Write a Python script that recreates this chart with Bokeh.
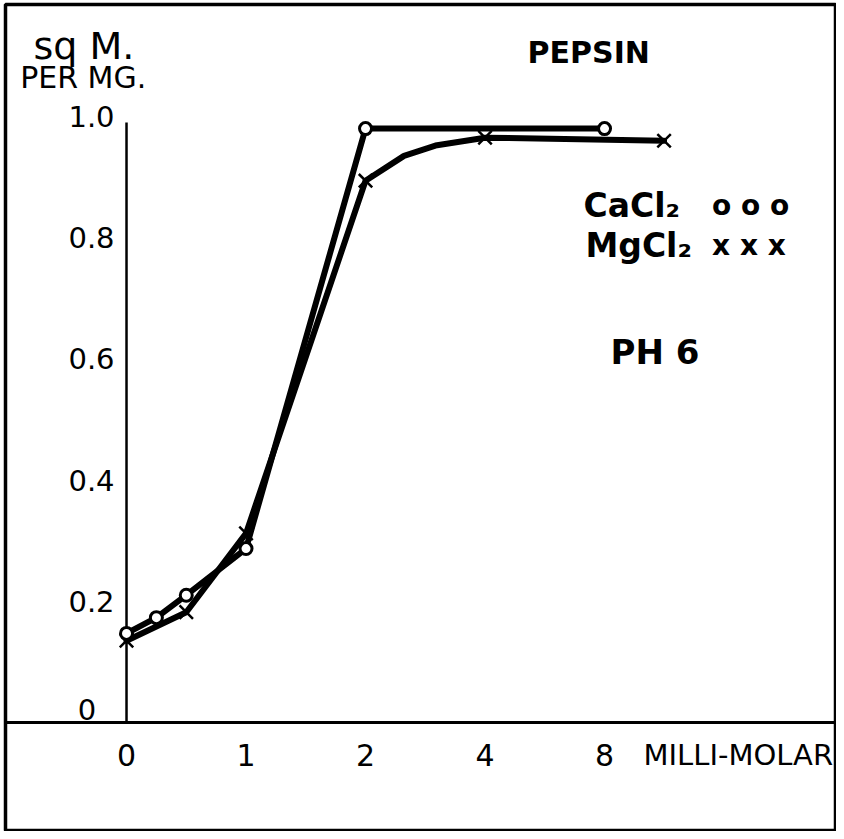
import numpy as np
from bokeh.plotting import figure
from bokeh.models import ColumnDataSource, Range1d, Span
from bokeh.core.properties import value
from bokeh.embed import file_html
from bokeh.resources import INLINE

# --- data (milli-molar concentration, sq M. per mg) ---
cacl2_conc = [0, 0.25, 0.5, 1, 2, 8]
cacl2_val = [0.147, 0.173, 0.21, 0.287, 0.98, 0.98]

mgcl2_conc = [0, 0.5, 1, 2, 4, 11.3]
mgcl2_val = [0.135, 0.182, 0.312, 0.894, 0.965, 0.96]

# drawn MgCl2 curve: marked points plus the bend
mgcl2_curve_conc = [0, 0.5, 1, 2, 2.5, 3, 4, 11.3]
mgcl2_curve_val = [0.135, 0.182, 0.312, 0.894, 0.935, 0.952, 0.965, 0.96]

x_tick_conc = [0, 1, 2, 4, 8]
x_tick_labels = ["0", "1", "2", "4", "8"]
y_ticks = [0, 0.2, 0.4, 0.6, 0.8, 1.0]
y_tick_labels = ["0", "0.2", "0.4", "0.6", "0.8", "1.0"]


def axis_pos(conc):
    """Axis scale of the original: linear from 0 to 1 mM, doubling steps beyond."""
    c = np.asarray(conc, dtype=float)
    return np.where(c <= 1, c, 1 + np.log2(np.maximum(c, 1)))


FONT = value("DejaVu Sans")

p = figure(width=836, height=831, output_backend="svg", toolbar_location=None,
           x_axis_type=None, y_axis_type=None,
           x_range=Range1d(-1.0126, 5.941), y_range=Range1d(-0.1799, 1.1848),
           min_border=0, min_border_left=5, min_border_right=0,
           min_border_top=4, min_border_bottom=0)
p.grid.visible = False
p.background_fill_color = "white"
p.border_fill_color = "white"
p.outline_line_color = "black"
p.outline_line_width = 3.5

# axes drawn as in the original figure
p.add_layout(Span(location=0, dimension="width", line_color="black", line_width=3))
p.segment(x0=[0], y0=[0], x1=[0], y1=[0.99], line_color="black", line_width=2.5)

# curves
ca_src = ColumnDataSource(dict(x=axis_pos(cacl2_conc), y=cacl2_val))
mg_src = ColumnDataSource(dict(x=axis_pos(mgcl2_conc), y=mgcl2_val))
mg_curve = ColumnDataSource(dict(x=axis_pos(mgcl2_curve_conc), y=mgcl2_curve_val))

p.line("x", "y", source=mg_curve, line_color="black", line_width=6,
       line_join="round", line_cap="round")
p.line("x", "y", source=ca_src, line_color="black", line_width=6,
       line_join="round", line_cap="round")
p.scatter("x", "y", source=mg_src, marker="x", size=19, line_color="black",
          line_width=2.5)
p.scatter("x", "y", source=ca_src, marker="circle", size=12, line_color="black",
          fill_color="white", line_width=3)

# tick labels
xt = ColumnDataSource(dict(x=axis_pos(x_tick_conc), y=[-0.053] * len(x_tick_conc),
                           t=x_tick_labels))
p.text("x", "y", text="t", source=xt, text_font=FONT, text_font_size="30px",
       text_align="center", text_baseline="middle", text_color="black")

yt = ColumnDataSource(dict(x=[-0.10] * (len(y_ticks) - 1), y=y_ticks[1:],
                           t=y_tick_labels[1:]))
p.text("x", "y", text="t", source=yt, text_font=FONT, text_font_size="29px",
       text_align="right", text_baseline="middle", text_color="black")
p.text(x=[-0.33], y=[y_ticks[0]], text=[y_tick_labels[0]], text_font=FONT,
       text_font_size="29px", text_align="center", text_baseline="bottom",
       y_offset=-2, text_color="black")

# annotations
def label(x, y, s, size, align="left", baseline="middle", style="normal"):
    p.text(x=[x], y=[y], text=[s], text_font=FONT, text_font_size=size,
           text_align=align, text_baseline=baseline, text_color="black",
           text_font_style=style)

label(-0.778, 1.117, "sq M.", "38px", baseline="alphabetic")
label(-0.89, 1.064, "PER MG.", "30px", baseline="alphabetic")
label(4.326, -0.053, "MILLI-MOLAR", "29px")
label(3.356, 1.106, "PEPSIN", "30px", style="bold")
label(3.824, 0.853, "CaCl\u2082", "33px", style="bold")
label(4.90, 0.853, "o o o", "28px", style="bold")
label(3.84, 0.787, "MgCl\u2082", "33px", style="bold")
label(4.90, 0.787, "x x x", "28px", style="bold")
label(4.05, 0.611, "PH 6", "34px", style="bold")

open("out.html", "w").write(file_html(p, INLINE))
